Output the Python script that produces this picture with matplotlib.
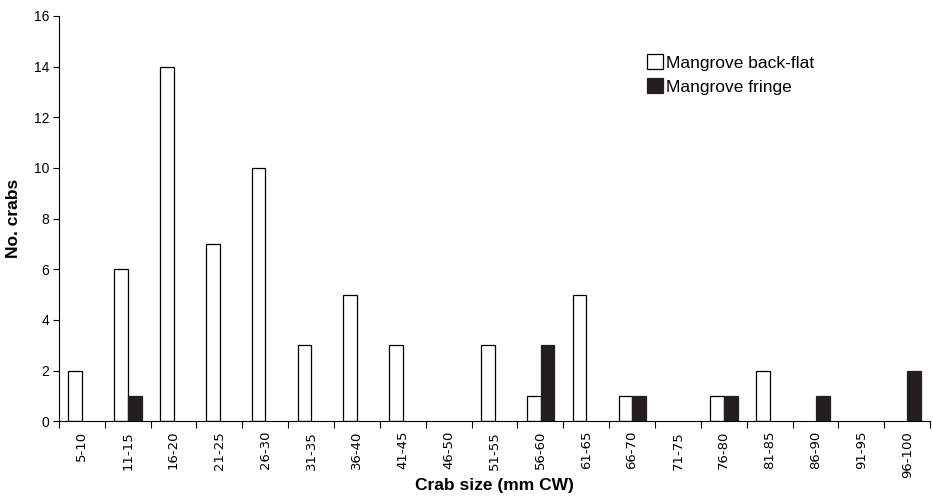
import matplotlib
matplotlib.use("Agg")
import matplotlib.pyplot as plt
import numpy as np

categories = ["5-10", "11-15", "16-20", "21-25", "26-30", "31-35", "36-40", "41-45",
              "46-50", "51-55", "56-60", "61-65", "66-70", "71-75", "76-80", "81-85",
              "86-90", "91-95", "96-100"]
back_flat = [2, 6, 14, 7, 10, 3, 5, 3, 0, 3, 1, 5, 1, 0, 1, 2, 0, 0, 0]
fringe = [0, 1, 0, 0, 0, 0, 0, 0, 0, 0, 3, 0, 1, 0, 1, 0, 1, 0, 2]

plt.rcParams['font.family'] = ['Liberation Sans', 'DejaVu Sans']
fig = plt.figure(figsize=(9.33, 4.99), dpi=100)
ax = fig.add_axes([0.063, 0.156, 0.934, 0.812])

x = np.arange(len(categories))
bf = np.array(back_flat, dtype=float)
fr = np.array(fringe, dtype=float)
w = 0.3
mb = bf > 0
mf = fr > 0
ax.bar(x[mb] - 0.145, bf[mb], w, color='white', edgecolor='black', linewidth=0.9,
       label='Mangrove back-flat', zorder=2)
ax.bar(x[mf] + 0.155, fr[mf], w, color='#231f20', edgecolor='#231f20', linewidth=0.9,
       label='Mangrove fringe', zorder=2)

ax.set_xlim(-0.5, len(categories) - 0.5)
ax.set_ylim(0, 16)
ax.set_yticks(range(0, 17, 2))
ax.tick_params(axis='y', labelsize=10, length=4, width=0.8, direction='out', pad=3)

ax.set_xticks(x)
ax.set_xticklabels(categories, rotation=90, fontsize=9.5, family='DejaVu Sans')
ax.tick_params(axis='x', which='major', length=0, pad=7)
ax.set_xticks(np.arange(-0.5, len(categories)), minor=True)
ax.tick_params(axis='x', which='minor', length=5, width=0.8, direction='out')

for s in ['top', 'right']:
    ax.spines[s].set_visible(False)
for s in ['left', 'bottom']:
    ax.spines[s].set_linewidth(0.8)

ax.set_ylabel('No. crabs', fontsize=12.5, fontweight='bold', labelpad=9)
ax.set_xlabel('Crab size (mm CW)', fontsize=12.5, fontweight='bold', labelpad=0)

leg = ax.legend(loc='upper left', bbox_to_anchor=(0.675, 0.905), frameon=False,
                fontsize=12.5, handlelength=0.9, handleheight=0.9, handletextpad=0.2,
                labelspacing=0.45, borderaxespad=0, borderpad=0)

fig.savefig('out.png', dpi=100)
